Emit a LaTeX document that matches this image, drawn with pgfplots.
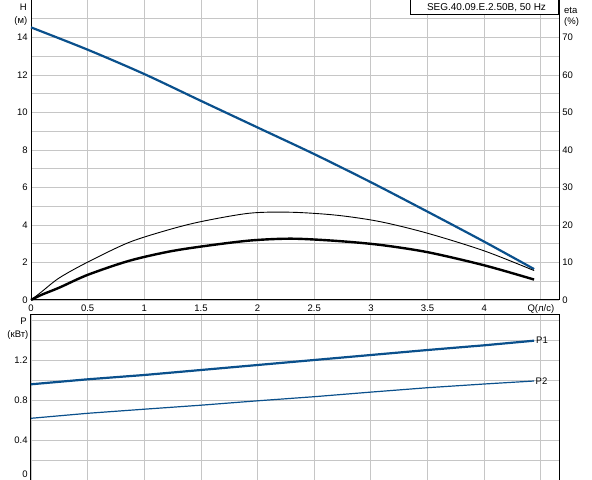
\documentclass[border=0pt]{standalone}
\usepackage{pgfplots}
\pgfplotsset{compat=1.18}
\usepackage{fontspec}
\setmainfont{Liberation Sans}
\definecolor{gridgray}{RGB}{198,198,198}
\definecolor{curveblue}{RGB}{10,80,140}
\begin{document}
\fontsize{9.5bp}{11bp}\selectfont
\begin{tikzpicture}
\useasboundingbox (0bp,0bp) rectangle (592bp,480bp);
\pgfplotsset{
  myaxis/.style={
    scale only axis, width=528bp, xmin=0, xmax=4.66,
    axis line style={line width=1bp, black},
    grid style={gridgray, line width=0.9bp},
    major tick length=0pt, minor tick length=0pt,
    tick label style={font=\fontsize{9.5bp}{11bp}\selectfont},
    /pgf/number format/assume math mode=true,
    /pgf/number format/fixed,
    xtick={0,0.5,1,1.5,2,2.5,3,3.5,4,4.5},
    clip=false,
  }
}
% ---------- top panel: H ----------
\begin{axis}[myaxis, at={(31bp,180bp)}, anchor=south west, height=300bp,
  ymin=0, ymax=16, ytick={0,2,4,6,8,10,12,14}, minor ytick={1,3,5,7,9,11,13,15},
  grid=both,
  xticklabels={0,0.5,1,1.5,2,2.5,3,3.5,4,Q(л/с)},
  xticklabel style={yshift=-1.5bp},
]
\addplot[curveblue, line width=2.2bp, smooth] coordinates {
(0,14.54) (0.5,13.35) (1,12.05) (1.5,10.62) (2,9.2) (2.5,7.78)
(3,6.28) (3.5,4.71) (4,3.11) (4.44,1.65)};
\end{axis}
% ---------- top panel: eta ----------
\begin{axis}[myaxis, at={(31bp,180bp)}, anchor=south west, height=300bp,
  ymin=0, ymax=80, ytick={0,10,20,30,40,50,60,70},
  axis y line*=right, axis x line=none,
]
\addplot[black, line width=0.9bp, smooth] coordinates {
(0,0) (0.09,2.1) (0.25,5.9) (0.5,10.1) (0.86,15.3) (1.2,18.6) (1.5,20.9) (1.93,23.15)
(2.3,23.4) (2.7,22.6) (3.08,20.9) (3.5,17.8) (4,13.1) (4.44,7.85)};
\addplot[black, line width=2.4bp, smooth] coordinates {
(0,0) (0.09,1.35) (0.25,3.3) (0.5,6.7) (0.86,10.4) (1.2,12.8) (1.5,14.25) (1.93,15.85)
(2.3,16.35) (2.7,15.75) (3.08,14.7) (3.5,12.75) (4,9.25) (4.44,5.45)};
\end{axis}
% ---------- bottom panel: P ----------
\begin{axis}[myaxis, at={(31bp,0bp)}, anchor=south west, height=165bp,
  ymin=0, ymax=1.65, ytick={0,0.4,0.8,1.2}, minor ytick={0.2,0.6,1.0,1.4,1.6},
  yticklabels={\raisebox{11bp}{0},0.4,0.8,1.2},
  grid=both, xticklabels={},
]
\addplot[curveblue, line width=2.2bp] coordinates {
(0,0.957) (0.5,1.007) (1,1.05) (1.5,1.10) (2,1.15) (2.5,1.20) (3,1.25)
(3.5,1.30) (4,1.347) (4.44,1.393)}
 node[pos=1, anchor=west, inner sep=1bp, black] {P1};
\addplot[curveblue, line width=1.2bp] coordinates {
(0,0.617) (0.5,0.667) (1,0.708) (1.5,0.748) (2,0.792) (2.5,0.833) (3,0.879)
(3.5,0.923) (4,0.96) (4.44,0.99)}
 node[pos=1, anchor=west, inner sep=1bp, black] {P2};
\end{axis}
% ---------- labels ----------
\node[anchor=base east, inner sep=0] at (27bp,469bp) {H};
\node[anchor=base east, inner sep=0] at (27.5bp,456bp) {(м)};
\node[anchor=base west, inner sep=0] at (564bp,466.5bp) {eta};
\node[anchor=base west, inner sep=0] at (564bp,455bp) {(\%)};
\node[anchor=base east, inner sep=0] at (27bp,155bp) {P};
\node[anchor=base east, inner sep=0] at (28.5bp,142.5bp) {(кВт)};
\node[draw, line width=1bp, fill=white, anchor=north east, minimum width=148bp,
  minimum height=15bp, inner sep=0, font=\fontsize{10bp}{11bp}\selectfont] at (559bp,480.5bp) {\hspace*{4bp}SEG.40.09.E.2.50B, 50 Hz};
\end{tikzpicture}
\end{document}
